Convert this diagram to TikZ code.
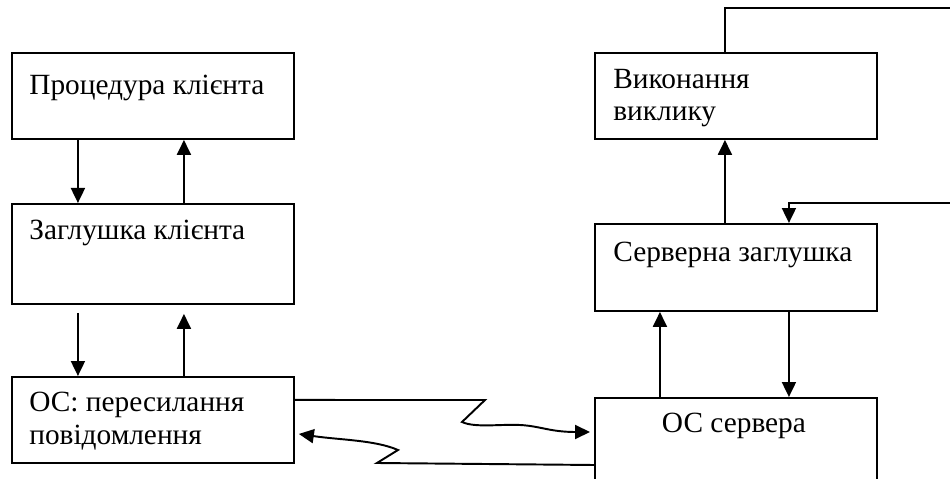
\documentclass[tikz,border=0pt]{standalone}
\usepackage{fontspec}
\setmainfont{Liberation Serif}
\usetikzlibrary{arrows.meta,calc}
\tikzset{
  box/.style={draw, line width=1.1pt, minimum width=5.64cm, inner sep=0pt, anchor=north west},
  lbl/.style={anchor=base west, inner sep=0pt, align=left, font=\fontsize{16.7}{18.4}\selectfont},
  arr/.style={line width=1.1pt, -{Triangle[length=0.3cm,width=0.28cm]}},
  wire/.style={line width=1.1pt},
}
\begin{document}
\begin{tikzpicture}[x=0.02cm,y=-0.02cm]
  \useasboundingbox (0,0) rectangle (950,479);
  \clip (0,0) rectangle (950,479);
  % client side
  \node[box, minimum height=1.72cm] (proc) at (11,52) {};
  \node[box, minimum height=2cm] (stub) at (11,203) {};
  \node[box, minimum height=1.72cm] (osc) at (11,376) {};
  \node[lbl] (proctxt) at ($(proc.north west)+(18,43)$) {Процедура клієнта};
  \node[lbl] (stubtxt) at ($(stub.north west)+(18,37)$) {Заглушка клієнта};
  \node[lbl] (osctxt) at ($(osc.north west)+(18,68)$) {ОС: пересилання\\повідомлення};
  % server side
  \node[box, minimum height=1.72cm] (exec) at (594,52) {};
  \node[box, minimum height=1.74cm] (sstub) at (594,223) {};
  \node[box, minimum height=2.4cm] (sos) at (594,397) {};
  \node[lbl] (exectxt) at ($(exec.north west)+(19,69)$) {Виконання\\виклику};
  \node[lbl] (sstubtxt) at ($(sstub.north west)+(19,39)$) {Серверна заглушка};
  \node[lbl, anchor=base] (sostxt) at ($(sos.north)+(-2,36)$) {ОС сервера};
  \coordinate (outA) at (950,8);
  \coordinate (outB) at (950,203);
  % client arrows
  \draw[arr] ($(proc.south)+(-75,0)$) -- ($(stub.north)+(-75,0)$);
  \draw[arr] ($(stub.north)+(31,0)$) -- ($(proc.south)+(31,0)$);
  \draw[arr] ($(stub.south)+(-75,8)$) -- ($(osc.north)+(-75,0)$);
  \draw[arr] ($(osc.north)+(31,0)$) -- ($(stub.south)+(31,9)$);
  % server arrows
  \draw[arr] ($(sstub.north)+(-11,0)$) -- ($(exec.south)+(-11,0)$);
  \draw[wire] ($(exec.north)+(-11,0)$) |- (outA);
  \draw[arr] (outB) -| ($(sstub.north)+(53,0)$);
  \draw[arr] ($(sos.north)+(-76,0)$) -- ($(sstub.south)+(-76,0)$);
  \draw[arr] ($(sstub.south)+(53,0)$) -- ($(sos.north)+(53,0)$);
  % messages
  \draw[arr] ($(osc.east)+(0,-20)$) -- (485,400) -- (462,422)
    .. controls (475,428) and (500,424) .. (520,425)
    .. controls (540,426) and (550,432) .. ($(sos.north west)+(-4,35)$);
  \draw[arr] ($(sos.north west)+(0,68)$) -- (377,463) -- (398,450)
    .. controls (375,440) and (340,440) .. ($(osc.east)+(4,14)$);
\end{tikzpicture}
\end{document}
